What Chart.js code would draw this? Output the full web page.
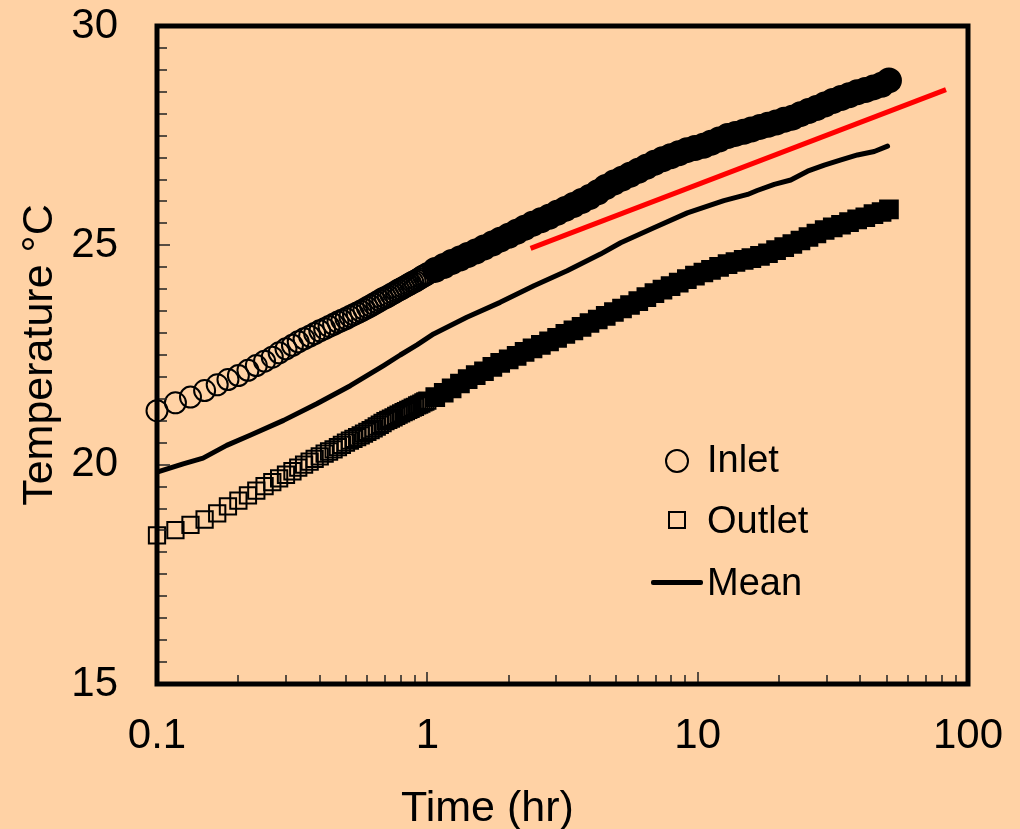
<!DOCTYPE html>
<html lang="en">
<head>
<meta charset="UTF-8" />
<title>Inlet / Outlet Temperature vs Time</title>
<script src="https://cdn.jsdelivr.net/npm/chart.js"></script>
<style>
  html, body {
    margin: 0;
    overflow: hidden;
    background: #ffd2a5;
  }

  .wrap {
    position: relative;
    width: 1020px;
    height: 829px;
    font-family: 'Liberation Sans', Arial, sans-serif;
    color: #000;
  }

  canvas { display: block; }

  .key {
    position: absolute;
    left: 707px;
    font-size: 38px;
    line-height: 38px;
    white-space: nowrap;
  }

  .mark {
    position: absolute;
    box-sizing: border-box;
  }

  .mark.circle {
    left: 665px; top: 449px;
    width: 24px; height: 24px;
    border: 2.5px solid #000;
    border-radius: 50%;
  }

  .mark.square {
    left: 668px; top: 511px;
    width: 18px; height: 18px;
    border: 2px solid #000;
  }

  .mark.line {
    left: 651px; top: 580px;
    width: 52px; height: 5px;
    background: #000;
    border-radius: 2px;
  }

  .xtitle {
    position: absolute;
    left: 401px;
    top: 785px;
    font-size: 43px;
    line-height: 43px;
    white-space: nowrap;
  }
</style>
</head>
<body>
<div class="wrap">
  <canvas id="tempChart" width="1020" height="829"></canvas>

  <div class="mark circle"></div>
  <div class="key" style="top: 440px;">Inlet</div>
  <div class="mark square"></div>
  <div class="key" style="top: 501px;">Outlet</div>
  <div class="mark line"></div>
  <div class="key" style="top: 563px;">Mean</div>

  <div class="xtitle">Time (hr)</div>
</div>

<script>
  // sample times (hr) shared by the inlet and outlet logs
  const timeHr = [
    0.1, 0.117, 0.133, 0.15, 0.167, 0.183, 0.2, 0.217, 0.233, 0.25,
    0.267, 0.283, 0.3, 0.317, 0.333, 0.35, 0.367, 0.383, 0.4, 0.417,
    0.433, 0.45, 0.467, 0.483, 0.5, 0.517, 0.533, 0.55, 0.567, 0.583,
    0.6, 0.617, 0.633, 0.65, 0.667, 0.683, 0.7, 0.717, 0.733, 0.75,
    0.767, 0.783, 0.8, 0.817, 0.833, 0.85, 0.867, 0.883, 0.9, 0.917,
    0.933, 0.95, 0.967, 0.983, 1.0,
    1.07, 1.15, 1.23, 1.32, 1.41, 1.51, 1.62, 1.74, 1.86, 2.0,
    2.14, 2.29, 2.45, 2.63, 2.82, 3.02, 3.24, 3.47, 3.72, 3.98,
    4.27, 4.57, 4.9, 5.25, 5.62, 6.03, 6.46, 6.92, 7.41, 7.94,
    8.51, 9.12, 9.77, 10.5, 11.2, 12.0, 12.9, 13.8, 14.8, 15.8,
    17.0, 18.2, 19.5, 20.9, 22.4, 24.0, 25.7, 27.5, 29.5, 31.6,
    33.9, 36.3, 38.9, 41.7, 44.7, 47.9, 51.0
  ];

  const inletC = [
    21.23, 21.41, 21.54, 21.69, 21.82, 21.94, 22.03, 22.15, 22.26, 22.36,
    22.45, 22.55, 22.64, 22.72, 22.80, 22.87, 22.93, 22.99, 23.05, 23.10,
    23.15, 23.20, 23.25, 23.29, 23.33, 23.38, 23.42, 23.46, 23.50, 23.54,
    23.58, 23.62, 23.66, 23.70, 23.74, 23.78, 23.81, 23.84, 23.88, 23.91,
    23.95, 23.98, 24.01, 24.04, 24.07, 24.10, 24.13, 24.16, 24.18, 24.21,
    24.24, 24.27, 24.30, 24.32, 24.35,
    24.44, 24.53, 24.62, 24.70, 24.78, 24.86, 24.95, 25.04, 25.13, 25.22,
    25.31, 25.40, 25.49, 25.57, 25.65, 25.74, 25.83, 25.92, 26.01, 26.10,
    26.21, 26.33, 26.43, 26.52, 26.61, 26.70, 26.79, 26.88, 26.96, 27.03,
    27.10, 27.17, 27.22, 27.27, 27.34, 27.41, 27.49, 27.54, 27.59, 27.64,
    27.70, 27.75, 27.80, 27.86, 27.91, 27.99, 28.06, 28.13, 28.21, 28.29,
    28.36, 28.42, 28.49, 28.54, 28.60, 28.66, 28.76
  ];

  const outletC = [
    18.39, 18.51, 18.63, 18.75, 18.89, 19.05, 19.18, 19.30, 19.41, 19.51,
    19.60, 19.69, 19.77, 19.85, 19.93, 20.00, 20.07, 20.13, 20.19, 20.25,
    20.30, 20.35, 20.40, 20.45, 20.50, 20.55, 20.59, 20.63, 20.67, 20.71,
    20.75, 20.79, 20.83, 20.87, 20.91, 20.95, 20.99, 21.02, 21.05, 21.08,
    21.11, 21.14, 21.17, 21.20, 21.22, 21.25, 21.27, 21.30, 21.32, 21.35,
    21.37, 21.39, 21.42, 21.44, 21.46,
    21.54, 21.64, 21.74, 21.85, 21.95, 22.04, 22.13, 22.23, 22.32, 22.40,
    22.48, 22.57, 22.65, 22.73, 22.81, 22.89, 22.98, 23.06, 23.14, 23.23,
    23.31, 23.39, 23.48, 23.56, 23.64, 23.73, 23.82, 23.91, 23.99, 24.07,
    24.15, 24.23, 24.31, 24.38, 24.44, 24.51, 24.57, 24.62, 24.67, 24.71,
    24.76, 24.82, 24.89, 24.96, 25.03, 25.11, 25.19, 25.27, 25.35, 25.41,
    25.47, 25.53, 25.59, 25.64, 25.71, 25.76, 25.82
  ];

  // mean of inlet and outlet
  const meanTimeHr = [
    0.1, 0.125, 0.148, 0.181, 0.221, 0.294, 0.39, 0.519, 0.689, 0.794,
    0.916, 1.055, 1.40, 1.86, 2.48, 3.29, 4.37, 5.19, 6.89, 9.16,
    12.5, 15.3, 16.6, 19.2, 22.1, 25.5, 29.4, 33.9, 39.0, 45.0, 50.4
  ];
  const meanC = [
    19.83, 20.02, 20.15, 20.44, 20.67, 21.01, 21.39, 21.80, 22.26, 22.50,
    22.73, 22.98, 23.36, 23.70, 24.08, 24.42, 24.80, 25.06, 25.40, 25.74,
    26.02, 26.16, 26.25, 26.39, 26.49, 26.69, 26.83, 26.95, 27.06, 27.14, 27.26
  ];

  // straight semi-log fit line
  const fitTimeHr = [2.41, 82.9];
  const fitC = [24.93, 28.55];

  const xTickValues = [0.1, 1, 10, 100];
  const yTickValues = [15, 20, 25, 30];

  const pts = (xs, ys) => xs.map((t, i) => ({ x: t, y: ys[i] }));

  // after ~1 hr the logged markers overlap into a solid band
  const markerFill = timeHr.map(t => (t > 1 ? '#000' : 'rgba(0,0,0,0)'));
  const circleSize = timeHr.map(t => (t > 1 ? 12 : 10.5));
  const squareSize = timeHr.map(t => (t > 1 ? 12.5 : 11.5));

  // keep label overhang from shrinking the plot box
  const noOverhang = s => {
    s.paddingTop = 0;
    s.paddingBottom = 0;
    s.paddingLeft = 0;
    s.paddingRight = 0;
  };

  // frame plus inward minor ticks
  const frameTicks = {
    id: 'frameTicks',
    afterDatasetsDraw(chart) {
      const { ctx, chartArea: a, scales: { x, y } } = chart;
      ctx.save();
      ctx.strokeStyle = '#222';
      ctx.lineWidth = 1.5;
      ctx.beginPath();
      for (let v = 15; v <= 30; v += 0.5) {
        const py = Math.round(y.getPixelForValue(v));
        const len = v % 5 === 0 ? 13 : 10;
        ctx.moveTo(a.left, py);
        ctx.lineTo(a.left + len, py);
      }
      for (let e = -1; e <= 1; e++) {
        const d = Math.pow(10, e);
        for (let m = 1; m <= 9; m++) {
          const px = Math.round(x.getPixelForValue(d * m));
          const len = m === 1 ? 12 : 9;
          ctx.moveTo(px, a.bottom);
          ctx.lineTo(px, a.bottom - len);
        }
      }
      ctx.stroke();
      ctx.strokeStyle = '#000';
      ctx.lineWidth = 5;
      ctx.strokeRect(a.left, a.top, a.right - a.left, a.bottom - a.top);
      ctx.restore();
    }
  };

  Chart.defaults.font.family = "'Liberation Sans', Arial, sans-serif";
  Chart.defaults.color = '#000';

  new Chart(document.getElementById('tempChart'), {
    type: 'scatter',
    data: {
      datasets: [
        {
          label: 'Fit',
          type: 'line',
          data: pts(fitTimeHr, fitC),
          borderColor: '#ff0000',
          borderWidth: 5,
          pointRadius: 0,
          fill: false
        },
        {
          label: 'Mean',
          type: 'line',
          data: pts(meanTimeHr, meanC),
          borderColor: '#000',
          borderWidth: 5,
          borderJoinStyle: 'round',
          borderCapStyle: 'round',
          pointRadius: 0,
          tension: 0,
          fill: false
        },
        {
          label: 'Outlet',
          data: pts(timeHr, outletC),
          pointStyle: 'rect',
          pointRadius: squareSize,
          pointBorderWidth: 2,
          pointBorderColor: '#000',
          pointBackgroundColor: markerFill,
          clip: false
        },
        {
          label: 'Inlet',
          data: pts(timeHr, inletC),
          pointStyle: 'circle',
          pointRadius: circleSize,
          pointBorderWidth: 2,
          pointBorderColor: '#000',
          pointBackgroundColor: markerFill,
          clip: false
        }
      ]
    },
    options: {
      responsive: false,
      animation: false,
      events: [],
      layout: { padding: { top: 26, right: 52, left: 0, bottom: 0 } },
      plugins: {
        legend: { display: false },
        tooltip: { enabled: false }
      },
      scales: {
        x: {
          type: 'logarithmic',
          min: 0.1,
          max: 100,
          afterBuildTicks: s => { s.ticks = xTickValues.map(v => ({ value: v })); },
          afterFit: s => { s.height = 145; noOverhang(s); },
          grid: { display: false, drawTicks: false },
          border: { display: false },
          ticks: {
            callback: v => String(v),
            autoSkip: false,
            maxRotation: 0,
            padding: 27,
            font: { size: 42 }
          }
        },
        y: {
          min: 15,
          max: 30,
          afterBuildTicks: s => { s.ticks = yTickValues.map(v => ({ value: v })); },
          afterFit: s => { s.width = 157; noOverhang(s); },
          grid: { display: false, drawTicks: false },
          border: { display: false },
          ticks: { padding: 39, font: { size: 42 } },
          title: {
            display: true,
            text: 'Temperature °C',
            font: { size: 43, lineHeight: 1 },
            padding: { top: 19, bottom: 0 }
          }
        }
      }
    },
    plugins: [frameTicks]
  });
</script>
</body>
</html>
